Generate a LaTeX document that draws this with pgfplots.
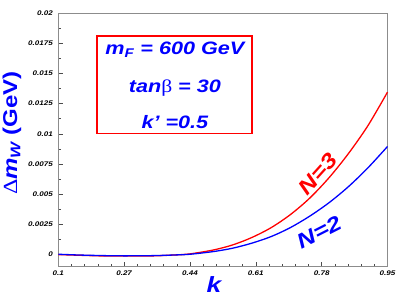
\documentclass[border=0pt]{standalone}
\usepackage{fontspec}
\setmainfont{Liberation Sans}[FakeStretch=1.2]
\newfontfamily\symfont{Liberation Serif}[FakeStretch=1.2]
\usepackage{pgfplots}
\pgfplotsset{compat=1.18}
\definecolor{rootblue}{RGB}{0,0,255}
\definecolor{rootred}{RGB}{255,0,0}
\begin{document}
\begin{tikzpicture}
\useasboundingbox (-58.3pt,-32.3pt) rectangle (341.7pt,266.7pt);
\begin{axis}[
  at={(0,0)}, anchor=south west,
  scale only axis, width=329.2pt, height=253.7pt,
  xmin=0.1, xmax=0.95, ymin=-0.001, ymax=0.02,
  xtick={0.1,0.27,0.44,0.61,0.78,0.95},
  xticklabels={0.1,0.27,0.44,0.61,0.78,0.95},
  ytick={0,0.0025,0.005,0.0075,0.01,0.0125,0.015,0.0175,0.02},
  yticklabels={0,0.0025,0.005,0.0075,0.01,0.0125,0.015,0.0175,0.02},
  scaled ticks=false,
  minor x tick num=4, minor y tick num=1,
  tick pos=left, tick align=inside,
  major tick length=5pt, minor tick length=3pt,
  tick style={black!70, line width=0.5pt},
  axis line style={black!45, line width=0.6pt},
  ticklabel style={font=\fontsize{6.7}{8}\selectfont\bfseries\itshape},
  xticklabel style={yshift=-1pt},
  yticklabel style={xshift=-2pt},
  xlabel={\bfseries\itshape k},
  xlabel style={at={(axis description cs:0.473,-0.072)}, anchor=center, font=\fontsize{22}{24}\selectfont, text=rootblue},
  ylabel={{\symfont\char"0394}\bfseries\itshape m\textsubscript{W} \upshape(GeV)},
  ylabel style={at={(axis description cs:-0.1406,0.527)}, anchor=center, rotate=0, font=\fontsize{20}{22}\selectfont, text=rootblue},
  clip=false,
]
\addplot[rootred, line width=1.3pt, smooth] coordinates {
(0.10,0.00000) (0.15,-0.00005) (0.20,-0.00010) (0.25,-0.00012) (0.30,-0.00012)
(0.35,-0.00010) (0.40,-0.00003) (0.44,0.00006) (0.50,0.00038) (0.55,0.00080)
(0.60,0.00142) (0.65,0.00224) (0.70,0.00333) (0.75,0.00470) (0.80,0.00640)
(0.85,0.00840) (0.90,0.01070) (0.95,0.01345)
};
\addplot[rootblue, line width=1.3pt, smooth] coordinates {
(0.10,0.00003) (0.15,-0.00003) (0.20,-0.00007) (0.25,-0.00010) (0.30,-0.00010)
(0.35,-0.00008) (0.40,-0.00003) (0.44,0.00003) (0.50,0.00025) (0.55,0.00053)
(0.60,0.00095) (0.65,0.00150) (0.70,0.00225) (0.75,0.00320) (0.80,0.00432)
(0.85,0.00565) (0.90,0.00720) (0.95,0.00895)
};
\draw[rootred, line width=1.2pt] (axis cs:0.2,0.0181) rectangle (axis cs:0.6,0.0100);
\node[anchor=base, text=rootblue, font=\fontsize{18}{21}\selectfont\bfseries\itshape] at (axis cs:0.401,0.01653) {m\textsubscript{F} = 600 GeV};
\node[anchor=base, text=rootblue, font=\fontsize{18}{21}\selectfont\bfseries\itshape] at (axis cs:0.401,0.0134) {tan{\symfont\upshape\mdseries β} = 30};
\node[anchor=base, text=rootblue, font=\fontsize{18}{21}\selectfont\bfseries\itshape] at (axis cs:0.401,0.01045) {k\char"0027{} =0.5};
\node[rotate=48, text=rootred, font=\fontsize{21}{24}\selectfont\bfseries\itshape, inner sep=0pt] at (axis cs:0.7706,0.00667) {N=3};
\node[rotate=27, text=rootblue, font=\fontsize{21}{24}\selectfont\bfseries\itshape, inner sep=0pt] at (axis cs:0.773,0.00187) {N=2};
\end{axis}
\end{tikzpicture}
\end{document}
